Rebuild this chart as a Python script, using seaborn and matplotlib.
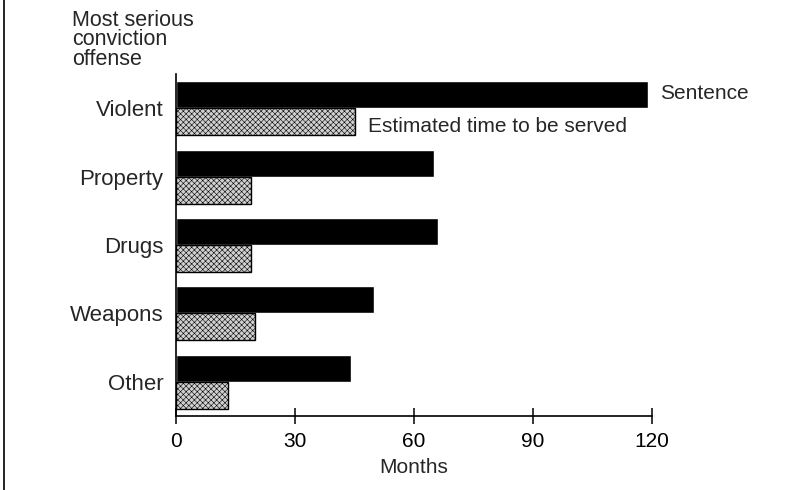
import pandas as pd
import numpy as np
import matplotlib.pyplot as plt
import seaborn as sns
from matplotlib.lines import Line2D

# offense categories and months
offenses = ["Violent", "Property", "Drugs", "Weapons", "Other"]
sentence = [119, 65, 66, 50, 44]
time_served = [45, 19, 19, 20, 13]
series = ["Sentence", "Estimated time to be served"]

df = pd.DataFrame({
    "offense": offenses * 2,
    "months": sentence + time_served,
    "series": [series[0]] * len(offenses) + [series[1]] * len(offenses),
})

sns.set_style("white")
plt.rcParams['font.family'] = ['Liberation Sans', 'DejaVu Sans']
plt.rcParams['hatch.linewidth'] = 0.4

fig = plt.figure(figsize=(7.99, 4.90), dpi=100)
ax = fig.add_axes([176 / 799, 1 - 416 / 490, (652 - 176) / 799, (416 - 74) / 490])

sns.barplot(data=df, y="offense", x="months", hue="series", orient="h",
            order=offenses, hue_order=series,
            palette={series[0]: "black", series[1]: "#d0d0d0"},
            width=0.79, ax=ax, legend=False, saturation=1)

# grey bars get a fine texture and a black outline
for p in ax.containers[1]:
    p.set_hatch("xxxxxx")
    p.set_edgecolor("black")
    p.set_linewidth(1.0)

ax.set_xlim(0, 120)
ax.set_ylim(4.5, -0.5)
ax.set_xticks([0, 30, 60, 90, 120])
ax.tick_params(axis="x", bottom=True, direction="inout", length=12, width=1.1,
               labelsize=15, pad=5.5, colors="black")
ax.tick_params(axis="y", left=False, length=0, labelsize=16, pad=9)
ax.set_xlabel("Months", fontsize=15, labelpad=5)
ax.set_ylabel("")

for s in ["top", "right"]:
    ax.spines[s].set_visible(False)
for s in ["left", "bottom"]:
    ax.spines[s].set_color("black")
    ax.spines[s].set_linewidth(1.2)

# series labels next to the Violent bars
ax.text(sentence[0] + 3, -0.22, series[0], fontsize=15, va="center", ha="left", clip_on=False)
ax.text(time_served[0] + 3.5, 0.27, series[1], fontsize=15, va="center", ha="left", clip_on=False)

fig.text(72 / 799, 1 - 10 / 490, "Most serious\nconviction\noffense", fontsize=15.5,
         va="top", ha="left", linespacing=0.9)

# page border on the left
fig.add_artist(Line2D([4 / 799, 4 / 799], [0, 1], color="black", lw=1.2))

fig.savefig("out.png", dpi=100)
